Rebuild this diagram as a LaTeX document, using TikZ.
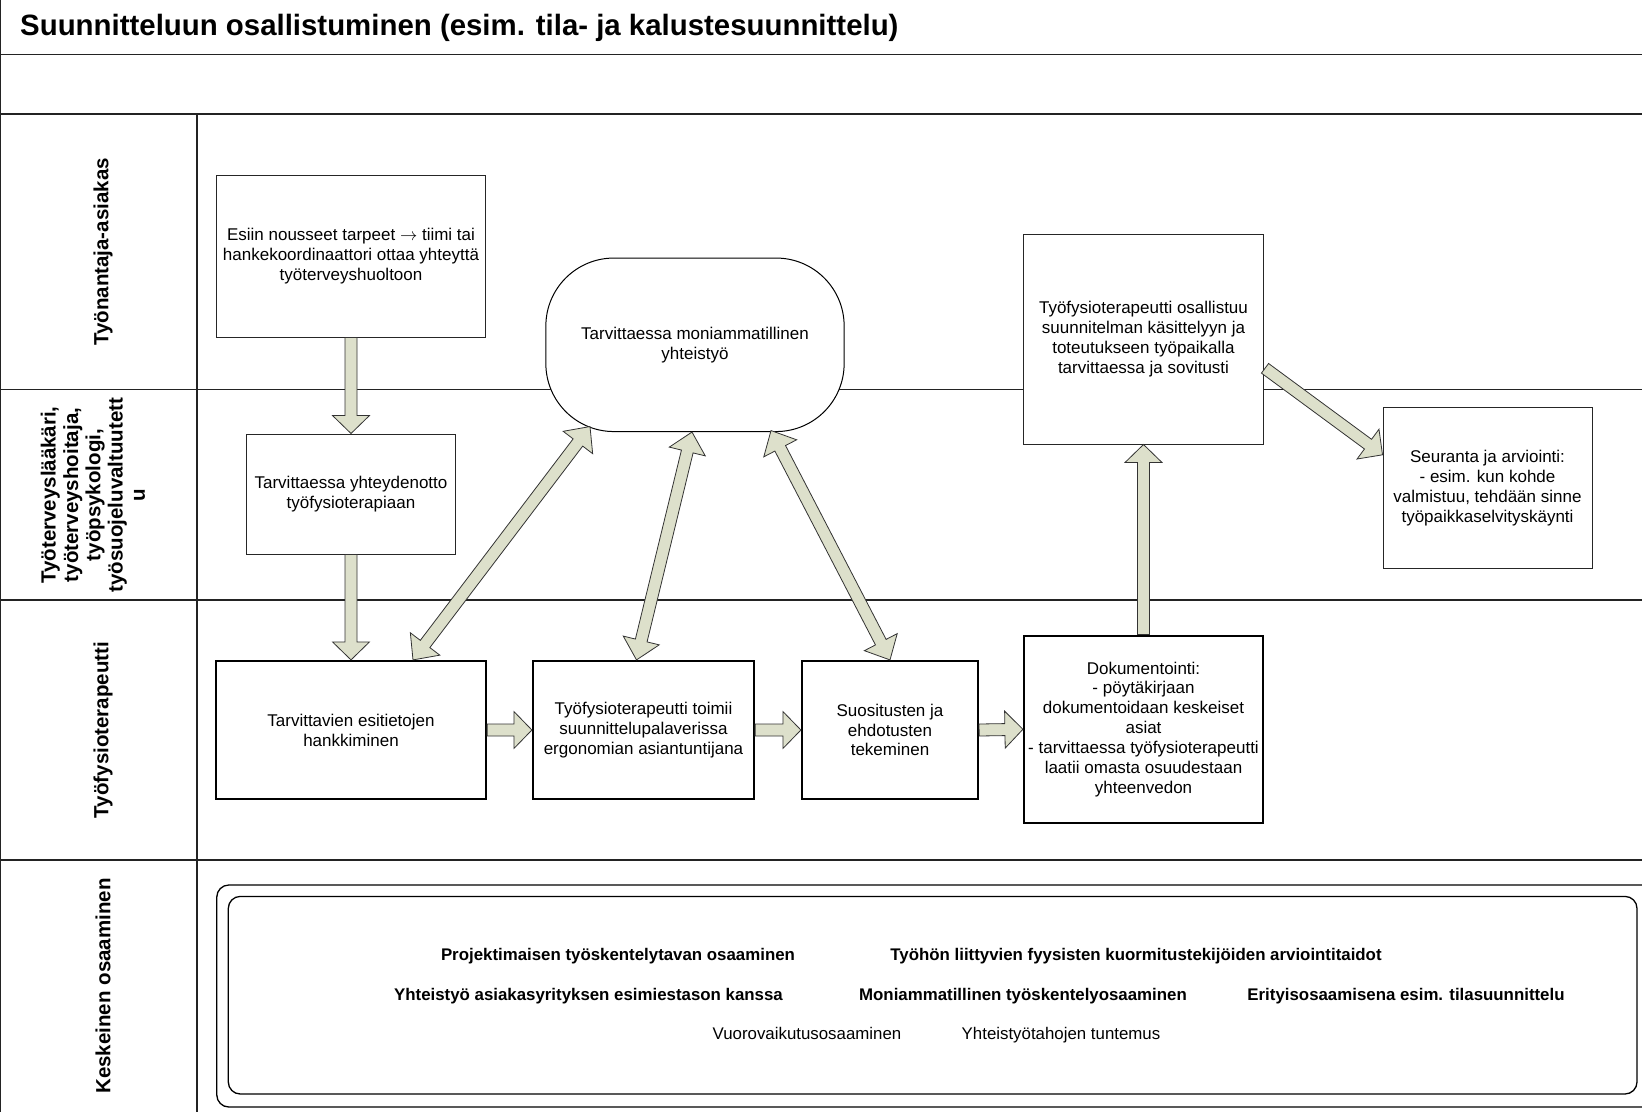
\documentclass[tikz,border=0pt]{standalone}
\usepackage{fontspec}
\setmainfont{Liberation Sans}
\usetikzlibrary{calc}

\definecolor{arrowfill}{RGB}{221,224,203}
\definecolor{frameline}{RGB}{35,35,35}

\newcommand\txtfont{\fontsize{17}{19.9}\selectfont}
\newcommand\lnfont{\fontsize{20.5}{22.3}\selectfont\bfseries}
\newcommand\hdfont{\fontsize{29.4}{34}\selectfont\bfseries}
\newcommand\skfont{\fontsize{16.85}{19.8}\selectfont}

% block arrow geometry
\newcommand\arrowshaft{6pt}
\newcommand\arrowhead{18.5pt}
\newcommand\arrowlen{18pt}

% one-headed block arrow from #1 to #2
\newcommand\onewayarrow[2]{%
  \filldraw[blockarrow]
    ($(#1)!\arrowshaft!90:(#2)$)
    -- ($(#2)!\arrowlen!(#1)!\arrowshaft!-90:(#1)$)
    -- ($(#2)!\arrowlen!(#1)!\arrowhead!-90:(#1)$)
    -- (#2)
    -- ($(#2)!\arrowlen!(#1)!\arrowhead!90:(#1)$)
    -- ($(#2)!\arrowlen!(#1)!\arrowshaft!90:(#1)$)
    -- ($(#1)!\arrowshaft!-90:(#2)$)
    -- cycle;}

% two-headed block arrow between #1 and #2
\newcommand\twowayarrow[2]{%
  \filldraw[blockarrow]
    (#1)
    -- ($(#1)!20pt!(#2)!\arrowhead!90:(#2)$)
    -- ($(#1)!20pt!(#2)!\arrowshaft!90:(#2)$)
    -- ($(#2)!20pt!(#1)!\arrowshaft!-90:(#1)$)
    -- ($(#2)!20pt!(#1)!\arrowhead!-90:(#1)$)
    -- (#2)
    -- ($(#2)!20pt!(#1)!\arrowhead!90:(#1)$)
    -- ($(#2)!20pt!(#1)!\arrowshaft!90:(#1)$)
    -- ($(#1)!20pt!(#2)!\arrowshaft!-90:(#2)$)
    -- ($(#1)!20pt!(#2)!\arrowhead!-90:(#2)$)
    -- cycle;}

\tikzset{
  x={(1pt,0)}, y={(0,-1pt)},
  rule/.style={draw=frameline, line width=1.2pt},
  blockarrow/.style={fill=arrowfill, draw=black!80, line width=0.8pt, line join=miter},
  thinbox/.style={rectangle, draw=black!85, line width=1pt, fill=white, inner sep=0pt,
    align=center, font=\txtfont},
  thickbox/.style={thinbox, draw=black, line width=2.2pt},
  roundbox/.style={thinbox, draw=black, line width=1pt, rounded corners=68pt},
  lanelabel/.style={rotate=90, font=\lnfont, align=center, inner sep=0pt},
  skill/.style={font=\skfont\bfseries, inner sep=0pt, anchor=base},
  skilllight/.style={font=\skfont, inner sep=0pt, anchor=base},
}

\begin{document}
\begin{tikzpicture}
\useasboundingbox (0,0) rectangle (1642,1112);
\clip (0,0) rectangle (1642,1112);
\fill[white] (0,0) rectangle (1642,1112);

% swimlane grid
\draw[rule] (0.8,0) -- (0.8,1112);
\draw[rule] (0,54.5) -- (1642,54.5);
\draw[rule] (0,114) -- (1642,114);
\draw[rule] (0,389.5) -- (1642,389.5);
\draw[rule] (0,600) -- (1642,600);
\draw[rule] (0,860) -- (1642,860);
\draw[rule] (197,114) -- (197,1112);

% heading
\node[anchor=west, font=\hdfont, inner sep=0pt] (heading) at (20,28)
  {Suunnitteluun osallistuminen (esim. tila- ja kalustesuunnittelu)};

% lane labels
\node[lanelabel] (lane1) at (103,252) {Työnantaja-asiakas};
\node[lanelabel] (lane2) at (93,495)
  {Työterveyslääkäri,\\työterveyshoitaja,\\työpsykologi,\\työsuojeluvaltuutett\\u};
\node[lanelabel] (lane3) at (103,730) {Työfysioterapeutti};
\node[lanelabel] (lane4) at (103,986) {Keskeinen osaaminen};

% process steps
\node[thinbox, minimum width=269, minimum height=162] (esiin) at (351,256)
  {Esiin nousseet tarpeet $\rightarrow$ tiimi tai\\hankekoordinaattori ottaa yhteyttä\\työterveyshuoltoon};
\node[thinbox, minimum width=209.5, minimum height=120] (yhteys) at (351,494)
  {Tarvittaessa yhteydenotto\\työfysioterapiaan};
\node[roundbox, minimum width=298.3, minimum height=173.5] (moni) at (695,344.8)
  {Tarvittaessa moniammatillinen\\yhteistyö};
\node[thickbox, minimum width=270, minimum height=138] (esitiedot) at (351,730)
  {Tarvittavien esitietojen\\hankkiminen};
\node[thickbox, minimum width=221, minimum height=138] (toimii) at (643.5,730)
  {Työfysioterapeutti toimii\\suunnittelupalaverissa\\ergonomian asiantuntijana};
\node[thickbox, minimum width=176, minimum height=138] (suositus) at (890,730)
  {Suositusten ja\\ehdotusten\\tekeminen};
\node[thickbox, minimum width=239, minimum height=187.4] (doku) at (1143.5,729.3)
  {Dokumentointi:\\- pöytäkirjaan\\dokumentoidaan keskeiset\\asiat\\- tarvittaessa työfysioterapeutti\\laatii omasta osuudestaan\\yhteenvedon};
\node[thinbox, minimum width=240, minimum height=209.4] (osallistuu) at (1143.5,339.3)
  {Työfysioterapeutti osallistuu\\suunnitelman käsittelyyn ja\\toteutukseen työpaikalla\\tarvittaessa ja sovitusti};
\node[thinbox, minimum width=209, minimum height=161.6] (seuranta) at (1487.5,487.8)
  {Seuranta ja arviointi:\\- esim. kun kohde\\valmistuu, tehdään sinne\\työpaikkaselvityskäynti};

% arrow end points off the anchors
\coordinate (m1) at ($(moni.south)+(-105,-5.5)$);
\coordinate (m2) at ($(moni.south)+(-3,0)$);
\coordinate (m3) at ($(moni.south)+(76,-1.5)$);
\coordinate (e1) at ($(esitiedot.north)+(62,0)$);
\coordinate (t1) at ($(toimii.north)+(-7,0)$);
\coordinate (o1) at ($(osallistuu.east)+(1,29)$);
\coordinate (s1) at ($(seuranta.west)+(0,-33)$);

% flow arrows
\onewayarrow{esiin.south}{yhteys.north}
\onewayarrow{yhteys.south}{esitiedot.north}
\onewayarrow{esitiedot.east}{toimii.west}
\onewayarrow{toimii.east}{suositus.west}
\onewayarrow{suositus.east}{doku.west}
\onewayarrow{doku.north}{osallistuu.south}
\onewayarrow{o1}{s1}
\twowayarrow{e1}{m1}
\twowayarrow{t1}{m2}
\twowayarrow{suositus.north}{m3}

% key competences
\draw[draw=black, line width=1.3pt, rounded corners=12pt] (216.8,885) rectangle (1655,1107);
\draw[draw=black, line width=1.3pt, rounded corners=12pt] (228.3,896.4) rectangle (1637,1094);
\node[skill] (k1) at (618,960.5) {Projektimaisen työskentelytavan osaaminen};
\node[skill] (k2) at (1136,960.5) {Työhön liittyvien fyysisten kuormitustekijöiden arviointitaidot};
\node[skill] (k3) at (588.5,1000.5) {Yhteistyö asiakasyrityksen esimiestason kanssa};
\node[skill] (k4) at (1023,1000.5) {Moniammatillinen työskentelyosaaminen};
\node[skill] (k5) at (1406,1000.5) {Erityisosaamisena esim. tilasuunnittelu};
\node[skilllight] (k6) at (807,1039) {Vuorovaikutusosaaminen};
\node[skilllight] (k7) at (1061,1039) {Yhteistyötahojen tuntemus};
\end{tikzpicture}
\end{document}
